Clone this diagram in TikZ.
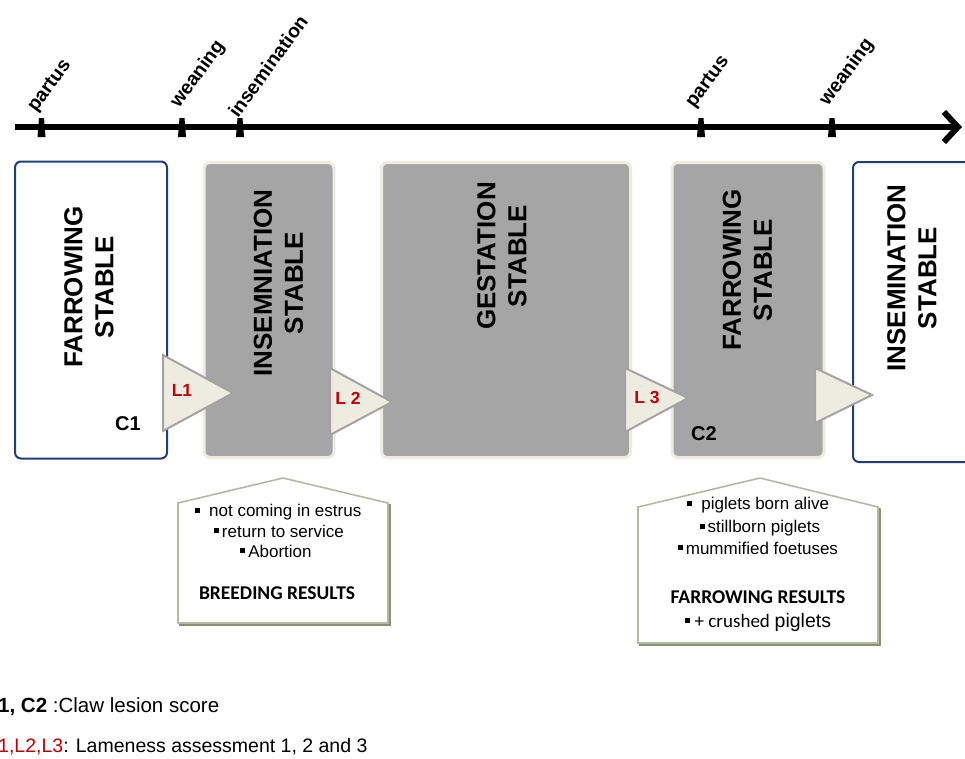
\documentclass[tikz,border=0pt]{standalone}
\usepackage{fontspec}
\setmainfont{Liberation Sans}
\newfontfamily\calfont{Carlito}
\usetikzlibrary{arrows.meta}
\definecolor{boxgray}{HTML}{A5A5A5}
\definecolor{beige}{HTML}{EEECE1}
\definecolor{navyb}{HTML}{1F3F78}
\definecolor{lred}{HTML}{C00000}
\definecolor{housec}{HTML}{B4B9A3}
\definecolor{houseshadow}{HTML}{8A9275}
\definecolor{trigray}{HTML}{A3A3A3}
\newcommand\sqb{\rule[0.22em]{5pt}{5pt}}
\begin{document}
\begin{tikzpicture}[x=1pt,y=-1pt,
  tlabel/.style={font=\fontsize{19.5}{21}\selectfont\bfseries, rotate=54, anchor=base west, inner sep=0},
  stabletext/.style={font=\fontsize{26}{31}\selectfont\bfseries, rotate=90, align=center, inner sep=0},
  graybox/.style={fill=boxgray, draw=beige, line width=3pt, rounded corners=6pt, inner sep=0},
  whitebox/.style={fill=white, draw=navyb, line width=2pt, rounded corners=6pt, inner sep=0},
  tri/.style={fill=beige, draw=trigray, line width=2pt, line join=miter},
  lab/.style={font=\fontsize{17.5}{19}\selectfont\bfseries, text=lred, inner sep=0},
  clab/.style={font=\fontsize{20}{22}\selectfont\bfseries, inner sep=0},
  house/.style={fill=white, draw=housec, line width=1.6pt},
  hshadow/.style={draw=houseshadow, line width=1.6pt},
  item/.style={font=\fontsize{17}{19}\selectfont, inner sep=0},
  htitle/.style={font=\calfont\fontsize{19.5}{22}\selectfont\bfseries, inner sep=0},
  legend/.style={font=\fontsize{20.5}{22}\selectfont, inner sep=0, anchor=west}
]
\useasboundingbox (0,0) rectangle (965,758);
\fill[white] (0,0) rectangle (965,758);

% timeline
\coordinate (t0) at (15,127);
\coordinate (t1) at (962,127);
\draw[line width=6pt, -{Straight Barb[length=14pt,width=30pt]}] (t0) -- (t1);
\foreach \x in {41.5,182,240,701,832}{
  \fill (\x-2.5,118) -- (\x+2.5,118) -- (\x+4,137) -- (\x-4,137) -- cycle;
}
\node[tlabel] (p1) at (36,113) {partus};
\node[tlabel] (w1) at (179,109) {weaning};
\node[tlabel] (i1) at (238,119) {insemination};
\node[tlabel] (p2) at (694,109) {partus};
\node[tlabel] (w2) at (828,107) {weaning};

% stables
\node[whitebox, minimum width=152pt, minimum height=297pt] (b1) at (91,310) {};
\node[graybox, minimum width=130pt, minimum height=295pt] (b2) at (269,310) {};
\node[graybox, minimum width=249pt, minimum height=295pt] (b3) at (506,310) {};
\node[graybox, minimum width=152pt, minimum height=295pt] (b4) at (748,310) {};
\node[whitebox, minimum width=140pt, minimum height=300pt] (b5) at (923,312) {};

\node[stabletext] (s1) at (89,287) {FARROWING\\STABLE};
\node[stabletext] (s2) at (278.5,283) {INSEMNIATION\\STABLE};
\node[stabletext] (s3) at (502,256) {GESTATION\\STABLE};
\node[stabletext] (s4) at (747.5,270) {FARROWING\\STABLE};
\node[stabletext] (s5) at (912,278) {INSEMINATION\\STABLE};

\node[clab] (c1) at (128,424) {C1};
\node[clab] (c2) at (704,434) {C2};

% lameness triangles
\draw[tri] (163,355) -- (233,393) -- (163,431) -- cycle;
\draw[tri] (330,368) -- (392,402) -- (330,435) -- cycle;
\draw[tri] (625,368) -- (688,398) -- (625,432) -- cycle;
\draw[tri] (815,368) -- (872,395) -- (815,423) -- cycle;
\node[lab] (l1) at (182,390) {L1};
\node[lab] (l2) at (348,398) {L 2};
\node[lab] (l3) at (647,397) {L 3};

% breeding results house
\draw[hshadow] (180,505) -- (283,480) -- (390,505) -- (390,625) -- (180,625) -- cycle;
\draw[house] (178,503) -- (283,478) -- (388,503) -- (388,623) -- (178,623) -- cycle;
\node[item] (br1) at (278,512) {\sqb\ \ not coming in estrus};
\node[item] (br2) at (279,531) {\sqb\,return to service};
\node[item] (br3) at (276,551) {\sqb\,Abortion};
\node[htitle] (br4) at (277,593) {BREEDING RESULTS};

% farrowing results house
\draw[hshadow] (640,509) -- (760,480) -- (880,509) -- (880,645) -- (640,645) -- cycle;
\draw[house] (638,507) -- (760,478) -- (878,507) -- (878,643) -- (638,643) -- cycle;
\node[item] (fr1) at (758,505) {\sqb\ \ piglets born alive};
\node[item] (fr2) at (760,528) {\sqb\,stillborn piglets};
\node[item] (fr3) at (758,548) {\sqb\,mummified foetuses};
\node[htitle] (fr4) at (758,597) {FARROWING RESULTS};
\node[item] (fr5) at (758,622) {\sqb\ {\calfont\fontsize{19}{21}\selectfont + crushed} {\fontsize{19.5}{21}\selectfont piglets}};

% legend
\node[legend] (lg1) at (-2,707) {\textbf{1, C2} :Claw lesion score};
\node[legend, font=\fontsize{19.5}{22}\selectfont] (lg2) at (-2,747) {{\color{lred}1,L2,L3}: Lameness assessment 1, 2 and 3};
\end{tikzpicture}
\end{document}
